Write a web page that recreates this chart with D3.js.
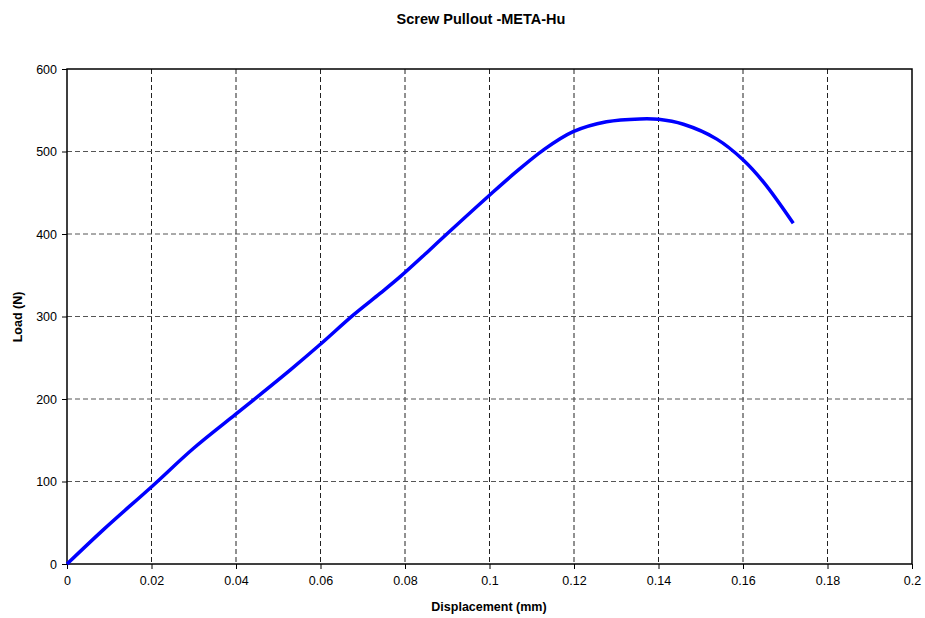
<!DOCTYPE html>
<html><head><meta charset="utf-8">
<script src="https://cdn.jsdelivr.net/npm/d3@7"></script>
<style>body{margin:0;background:#fff;font-family:"Liberation Sans",Arial,sans-serif;}</style>
</head><body><svg id="c" width="925" height="618"></svg>
<script>
const displacement = [0,0.0087,0.0201,0.0299,0.0398,0.0449,0.0528,0.0599,0.0678,0.0741,0.0788,0.0859,0.0899,0.1000,0.1060,0.1128,0.1198,0.1277,0.1356,0.1400,0.1459,0.1538,0.1600,0.1650,0.1719];
const load = [0,42,94,140,181,202,235,266,302,328,348,381,400,447,474,502,524,536,539.5,539,533,515,490,462,413];
const xTicks = [0,0.02,0.04,0.06,0.08,0.1,0.12,0.14,0.16,0.18,0.2];
const yTicks = [0,100,200,300,400,500,600];

const svg = d3.select("#c");
const L=67,R=912,T=69,B=564;
const x = d3.scaleLinear().domain([0,0.2]).range([L,R]);
const y = d3.scaleLinear().domain([0,600]).range([B,T]);

svg.append("g").selectAll("line").data(xTicks.slice(1,-1)).join("line")
  .attr("x1",d=>x(d)).attr("x2",d=>x(d)).attr("y1",T).attr("y2",B)
  .attr("stroke","#222").attr("stroke-dasharray","5,3").attr("stroke-width",1);
svg.append("g").selectAll("line").data(yTicks.slice(1,-1)).join("line")
  .attr("y1",d=>y(d)).attr("y2",d=>y(d)).attr("x1",L).attr("x2",R)
  .attr("stroke","#555").attr("stroke-dasharray","5,3").attr("stroke-width",1);

svg.append("rect").attr("x",L).attr("y",T).attr("width",R-L).attr("height",B-T)
  .attr("fill","none").attr("stroke","#000").attr("stroke-width",1.5);

const xa = svg.append("g").attr("transform",`translate(0,${B})`)
  .call(d3.axisBottom(x).tickValues(xTicks).tickFormat(d=>String(d)).tickSize(5).tickPadding(7));
const ya = svg.append("g").attr("transform",`translate(${L},0)`)
  .call(d3.axisLeft(y).tickValues(yTicks).tickSize(5).tickPadding(5));
[xa,ya].forEach(a=>{
  a.select(".domain").remove();
  a.selectAll(".tick line").attr("stroke","#000").attr("stroke-width",1);
  a.selectAll("text").attr("font-family","Liberation Sans, Arial, sans-serif").attr("font-size",12.5).attr("fill","#000");
});

const data = displacement.map((d,i)=>[d,load[i]]);
svg.append("path").datum(data)
  .attr("d",d3.line().x(d=>x(d[0])).y(d=>y(d[1])).curve(d3.curveCatmullRom.alpha(0.5)))
  .attr("fill","none").attr("stroke","#0000ff").attr("stroke-width",3.5).attr("stroke-linejoin","round");

svg.append("text").attr("x",481).attr("y",24).attr("text-anchor","middle")
  .attr("font-weight","bold").attr("font-size",14.5).text("Screw Pullout -META-Hu");
svg.append("text").attr("x",489).attr("y",611).attr("text-anchor","middle")
  .attr("font-weight","bold").attr("font-size",12.5).text("Displacement (mm)");
svg.append("text").attr("transform","translate(22,317) rotate(-90)").attr("text-anchor","middle")
  .attr("font-weight","bold").attr("font-size",12.5).text("Load (N)");
</script></body></html>
